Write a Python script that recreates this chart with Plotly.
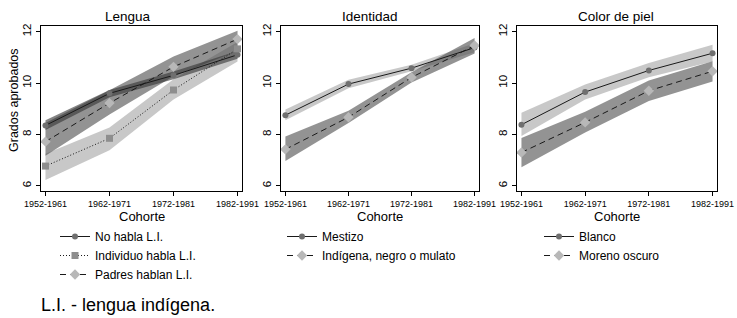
import plotly.graph_objects as go

cohortes = ["1952-1961", "1962-1971", "1972-1981", "1982-1991"]

# Lengua
no_habla = [8.35, 9.60, 10.30, 11.10]
no_habla_lo = [8.17, 9.45, 10.15, 10.95]
no_habla_hi = [8.55, 9.73, 10.45, 11.25]
individuo = [6.77, 7.85, 9.73, 11.33]
individuo_lo = [6.23, 7.39, 9.36, 10.84]
individuo_hi = [7.25, 8.27, 10.15, 11.60]
padres = [7.72, 9.22, 10.63, 11.71]
padres_lo = [7.17, 8.78, 10.26, 11.25]
padres_hi = [8.45, 9.72, 11.03, 12.04]

# Identidad
mestizo = [8.75, 9.96, 10.58, 11.38]
mestizo_lo = [8.55, 9.80, 10.46, 11.20]
mestizo_hi = [8.97, 10.13, 10.71, 11.55]
indigena = [7.42, 8.67, 10.22, 11.46]
indigena_lo = [6.97, 8.45, 10.02, 11.15]
indigena_hi = [7.92, 8.92, 10.42, 11.75]

# Color de piel
blanco = [8.38, 9.65, 10.49, 11.16]
blanco_lo = [7.94, 9.36, 10.23, 10.84]
blanco_hi = [8.84, 9.94, 10.78, 11.49]
moreno = [7.30, 8.47, 9.70, 10.46]
moreno_lo = [6.72, 8.08, 9.30, 10.06]
moreno_hi = [7.86, 8.88, 10.10, 10.85]

titulos = ["Lengua", "Identidad", "Color de piel"]
y_ticks = [6, 8, 10, 12]

FONT = "Liberation Sans, Arial, sans-serif"
LIGHT_BAND = "rgba(140,140,140,0.48)"
DARK_BAND = "rgba(80,80,80,0.62)"
DARKEST_BAND = "rgba(50,50,50,0.6)"
LINE = "#1a1a1a"

fig = go.Figure()


def band(xa, ya, lo, hi, color):
    fig.add_trace(go.Scatter(
        x=cohortes + cohortes[::-1], y=hi + lo[::-1], fill="toself",
        fillcolor=color, line=dict(width=0), mode="lines",
        hoverinfo="skip", showlegend=False, xaxis=xa, yaxis=ya))


def serie(xa, ya, vals, name, dash, symbol, mcolor, msize, legend):
    fig.add_trace(go.Scatter(
        x=cohortes, y=vals, name=name, mode="lines+markers",
        line=dict(color=LINE, width=1, dash=dash),
        marker=dict(symbol=symbol, color=mcolor, size=msize, line=dict(width=0)),
        xaxis=xa, yaxis=ya, legend=legend))


# Panel 1
band("x", "y", individuo_lo, individuo_hi, LIGHT_BAND)
band("x", "y", padres_lo, padres_hi, DARK_BAND)
band("x", "y", no_habla_lo, no_habla_hi, DARKEST_BAND)
serie("x", "y", no_habla, "No habla L.I.", "solid", "circle", "#6f6f6f", 6, "legend")
serie("x", "y", individuo, "Individuo habla L.I.", "1px,2px", "square", "#8e8e8e", 7, "legend")
serie("x", "y", padres, "Padres hablan L.I.", "6px,4px", "diamond", "#b8b8b8", 8, "legend")

# Panel 2
band("x2", "y2", mestizo_lo, mestizo_hi, LIGHT_BAND)
band("x2", "y2", indigena_lo, indigena_hi, DARK_BAND)
serie("x2", "y2", mestizo, "Mestizo", "solid", "circle", "#6f6f6f", 6, "legend2")
serie("x2", "y2", indigena, "Indígena, negro o mulato", "6px,4px", "diamond", "#b8b8b8", 8, "legend2")

# Panel 3
band("x3", "y3", blanco_lo, blanco_hi, LIGHT_BAND)
band("x3", "y3", moreno_lo, moreno_hi, DARK_BAND)
serie("x3", "y3", blanco, "Blanco", "solid", "circle", "#6f6f6f", 6, "legend3")
serie("x3", "y3", moreno, "Moreno oscuro", "6px,4px", "diamond", "#b8b8b8", 8, "legend3")

# The page body margin is removed (post_script below), so the figure fills
# the 737x318 window exactly and pixel positions map one to one.
W, H = 737, 318
PLOT_L, PLOT_R, PLOT_T, PLOT_B = 41, 717, 26, 191
L = PLOT_L
T = PLOT_T
R = W - PLOT_R
B = H - PLOT_B
PW = W - L - R
PH = H - T - B
panels_px = [(41, 242), (281, 479), (517, 717)]


def px_x(p):
    return (p - PLOT_L) / PW


def px_y(p):
    return (PLOT_B - p) / PH


xaxis_common = dict(
    type="category", range=[-0.07, 3.07], showline=True, linecolor="black",
    linewidth=1, mirror=True, ticks="outside", ticklen=4, tickcolor="black",
    tickfont=dict(family=FONT, size=9, color="black"), showgrid=False,
    zeroline=False, fixedrange=True, automargin=False)
yaxis_common = dict(
    range=[5.8, 12.22], tickvals=y_ticks, showline=True, linecolor="black",
    linewidth=1, mirror=True, ticks="outside", ticklen=4, tickcolor="black",
    tickangle=-90, tickfont=dict(family=FONT, size=11.5, color="black"),
    showgrid=False, zeroline=False, fixedrange=True, automargin=False)

layout = dict(
    width=W, height=H,
    margin=dict(l=L, r=R, t=T, b=B, pad=0, autoexpand=False),
    paper_bgcolor="white", plot_bgcolor="white",
    font=dict(family=FONT, color="black"),
)
for i, (a, b) in enumerate(panels_px):
    sfx = "" if i == 0 else str(i + 1)
    layout["xaxis" + sfx] = dict(xaxis_common, domain=[px_x(a), px_x(b)],
                                 anchor="y" + sfx)
    layout["yaxis" + sfx] = dict(yaxis_common, domain=[0, 1], anchor="x" + sfx)

legend_common = dict(
    font=dict(family=FONT, size=12, color="black"), bgcolor="rgba(0,0,0,0)",
    borderwidth=0, orientation="v", xanchor="left", yanchor="top",
    xref="paper", yref="paper", itemwidth=30, tracegroupgap=0,
    itemclick=False, itemdoubleclick=False)
layout["legend"] = dict(legend_common, x=px_x(55), y=px_y(222))
layout["legend2"] = dict(legend_common, x=px_x(282), y=px_y(222))
layout["legend3"] = dict(legend_common, x=px_x(539), y=px_y(222))

fig.update_layout(**layout)

annots = []
title_x = [128, 369.5, 615.5]
for t, cx in zip(titulos, title_x):
    annots.append(dict(text=t, x=px_x(cx), y=px_y(16.5), xref="paper", yref="paper",
                       xanchor="center", yanchor="middle", showarrow=False,
                       font=dict(family=FONT, size=13.5, color="black")))
for a, b in panels_px:
    annots.append(dict(text="Cohorte", x=px_x((a + b) / 2), y=px_y(217),
                       xref="paper", yref="paper", xanchor="center",
                       yanchor="middle", showarrow=False,
                       font=dict(family=FONT, size=13, color="black")))
annots.append(dict(text="Grados aprobados", x=px_x(14), y=px_y(100),
                   xref="paper", yref="paper", xanchor="center",
                   yanchor="middle", textangle=-90, showarrow=False,
                   font=dict(family=FONT, size=12.5, color="black")))
annots.append(dict(text="L.I. - lengua indígena.", x=px_x(39), y=px_y(305),
                   xref="paper", yref="paper", xanchor="left",
                   yanchor="middle", showarrow=False,
                   font=dict(family=FONT, size=18, color="black")))
fig.update_layout(annotations=annots)

fig.write_html(
    "out.html",
    config={"displayModeBar": False, "staticPlot": False},
    post_script="document.body.style.margin='0';"
                "document.body.style.overflow='hidden';")
